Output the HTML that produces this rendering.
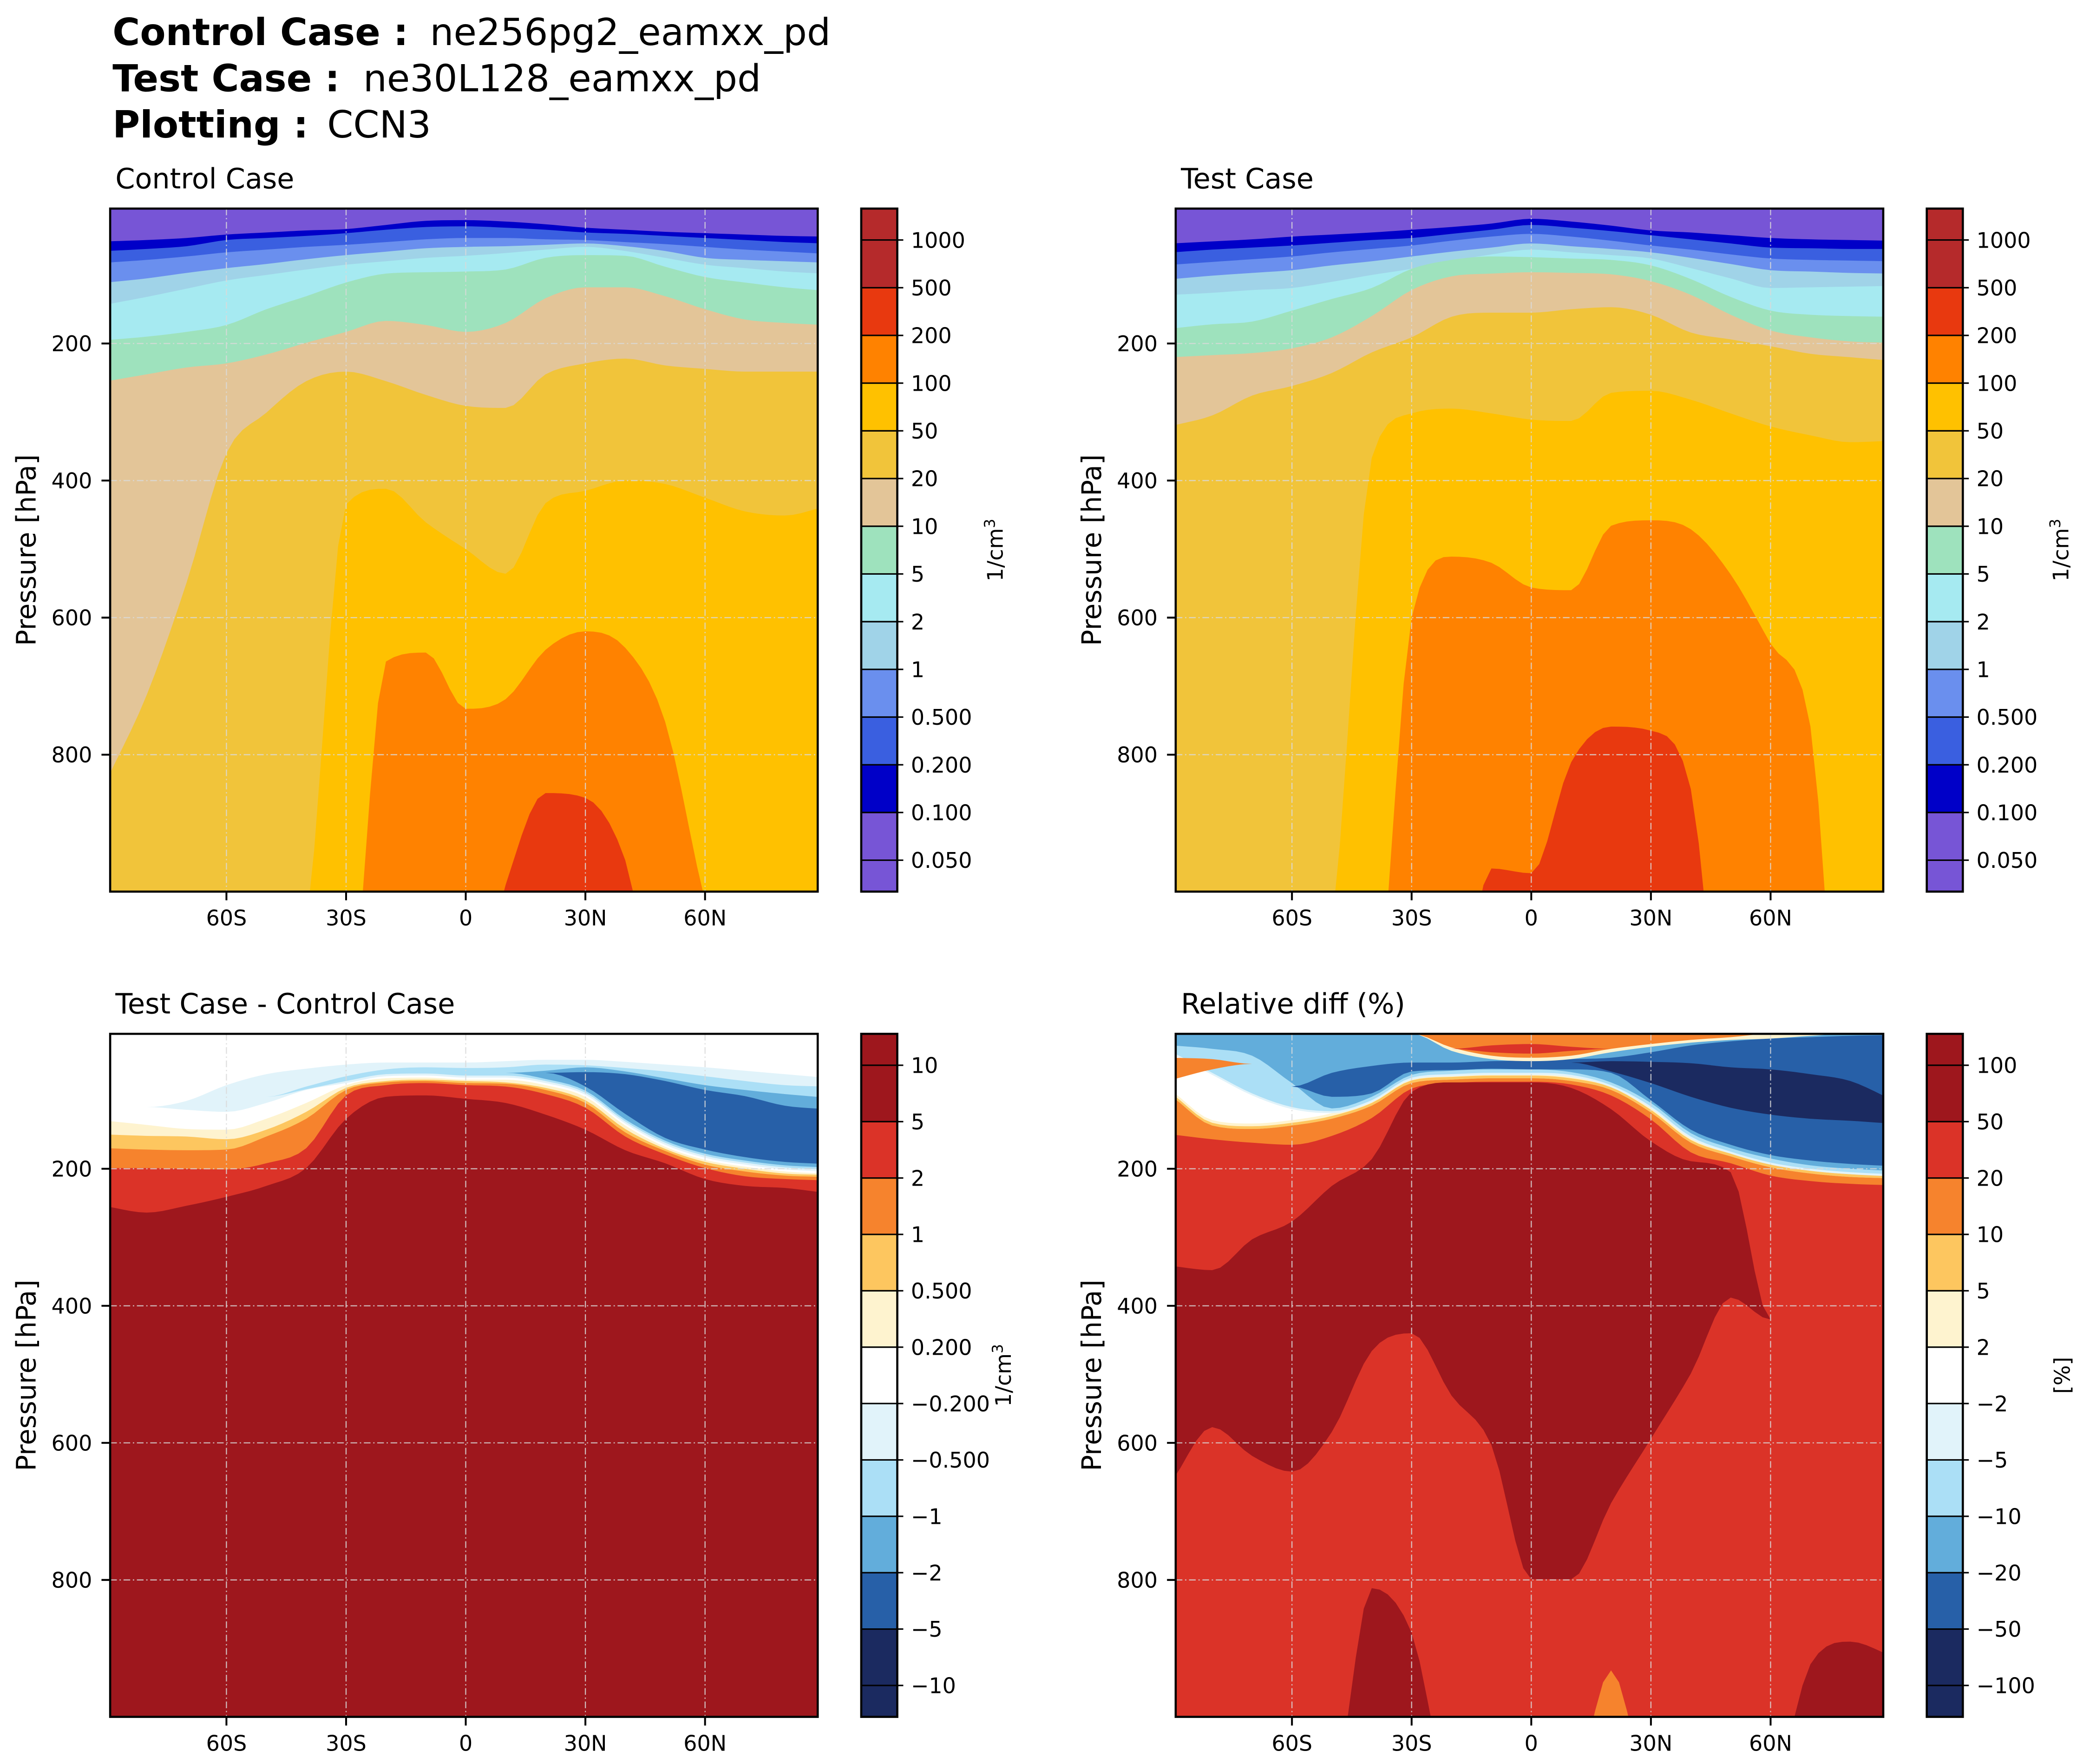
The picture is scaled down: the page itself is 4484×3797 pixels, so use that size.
<!DOCTYPE html>
<html><head><meta charset="utf-8"><title>CCN3 zonal mean</title>
<style>
html,body{margin:0;padding:0;background:#fff;}
svg{display:block;font-family:"DejaVu Sans","Liberation Sans",sans-serif;}
</style></head>
<body>
<svg id="fig" xmlns="http://www.w3.org/2000/svg" width="4484" height="3797" viewBox="0 0 1560 1321" preserveAspectRatio="none">
<rect x="0" y="0" width="1560" height="1321" fill="#ffffff"/>
<g font-size="28" fill="#000">
 <text x="84.3" y="33.7"><tspan font-weight="bold">Control Case :</tspan><tspan x="322">ne256pg2_eamxx_pd</tspan></text>
 <text x="84.3" y="68.3"><tspan font-weight="bold">Test Case :</tspan><tspan x="272">ne30L128_eamxx_pd</tspan></text>
 <text x="84.3" y="103"><tspan font-weight="bold">Plotting :</tspan><tspan x="245">CCN3</tspan></text>
</g>
</svg>
<script>
// ---------- shared grid ----------
const lats = [-90,-80,-70,-60,-50,-40,-30,-20,-10,0,10,20,30,40,50,60,70,80,90];
const xTickVals = [-60,-30,0,30,60];
const xTickLabels = ['60S','30S','0','30N','60N'];
const yTickVals = [200,400,600,800];
const yTickLabels = ['200','400','600','800'];

// ---------- Control case contour boundaries (hPa, region below is >= level) ----------
const c0p1 = [51,49,46,41,38,35,33,27,21,20,22,26,31,34,37,39,41,43,44];
const c0p2 = [65,62,58,49,46,43,39,34,30,29,31,34,38,40,43,46,49,52,54];
const c0p5 = [82,78,73,67,63,59,56,52,48,46,46,48,49,52,55,59,63,66,69];
const c1 = [111,105,97,90,84,77,71,66,61,59,58,56,54,58,65,75,78,80,82];
const c2 = [143,132,120,108,100,92,85,80,75,72,68,63,59,65,75,85,90,95,98];
const c5 = [195,190,183,173,150,131,111,98,96,95,92,75,71,72,88,103,111,118,123];
const c10 = [255,245,235,229,216,199,183,167,173,183,170,134,118,118,131,150,165,170,173];
const c20 = [837,713,549,360,301,255,241,255,275,291,294,245,229,222,232,237,241,241,241];
const c50 = [1200,1200,1200,1200,1200,1050,435,412,461,500,536,433,415,400,405,425,445,451,438];
const c100 = [1200,1200,1200,1200,1200,1200,1200,664,651,733,719,647,620,644,752,1013,1200,1200,1200];
const c200 = [1200,1200,1200,1200,1200,1200,1200,1200,1200,1200,990,856,863,954,1200,1200,1200,1200,1200];

// ---------- Test case contour boundaries ----------
const t0p1 = [54,51,48,44,41,38,34,30,25,18,22,28,35,38,42,46,48,49,50];
const t0p2 = [67,63,60,57,53,49,46,40,34,27,31,36,42,48,54,60,61,62,62];
const t0p5 = [85,81,77,73,67,62,57,50,44,40,44,50,57,63,70,76,78,79,80];
const t1 = [106,101,97,93,86,80,73,66,60,54,58,62,67,75,84,93,95,97,98];
const t2 = [129,126,122,119,110,100,91,80,70,63,67,71,76,90,105,119,118,117,116];
const t5 = [178,172,168,152,135,119,91,78,73,74,76,78,86,106,132,152,158,160,161];
const t10 = [220,217,214,207,191,160,122,102,98,96,97,99,109,129,158,181,191,197,199];
const t20 = [320,305,276,262,243,213,191,161,155,155,150,147,158,184,194,204,215,220,225];
const t50 = [1200,1200,1200,1200,1050,367,302,295,302,311,313,272,269,282,302,321,334,344,342];
const t100 = [1200,1200,1200,1200,1200,1200,600,511,520,556,560,466,458,471,537,638,759,1400,1200];
const t200 = [1200,1200,1200,1200,1200,1200,1200,1200,966,973,811,759,765,850,1300,1200,1200,1200,1200];

// ---------- Difference (test - control) ----------
const d0p2 = [130,136,142,143,127,104,78,68,67,70,70,78,95,137,168,187,197,204,207];
const d0p5 = [150,152,153,157,143,117,82,72,70,72,74,82,100,142,171,190,200,207,209];
const d1 = [170,172,173,172,153,127,85,74,72,75,76,85,104,147,174,194,204,210,212];
const d2 = [199,199,200,201,192,170,93,78,75,78,80,91,111,153,179,199,211,215,217];
const d5 = [255,264,254,241,225,199,127,95,93,98,104,121,143,173,192,215,225,228,235];
const dm0p2Top = [110,110,101,78,62,54,48,45,45,45,43,41,41,44,48,52,57,62,67];
const dm0p2Bot = [110,110,114,117,104,85,75,65,64,67,67,75,92,134,165,184,194,201,204];
const dm0p5Top = [95,95,95,95,95,80,65,55,52,53,52,48,49,53,58,65,72,78,80];
const dm0p5Bot = [95,95,95,95,95,84,72,62,61,64,64,72,89,131,162,181,191,198,201];
const dm1Top = [60,60,60,60,60,60,60,60,60,60,60,57,52,58,68,78,85,91,96];
const dm1Bot = [60,60,60,60,60,60,60,60,60,60,60,69,86,128,159,178,188,195,198];
const dm2Top = [60,60,60,60,60,60,60,60,60,60,60,60,59,62,72,85,94,108,113];
const dm2Bot = [60,60,60,60,60,60,60,60,60,60,60,60,80,120,155,172,183,190,193];

// ---------- Relative difference (%) ----------
const rOrTop = [95,137,142,137,127,108,75,70,68,68,72,85,118,162,182,198,207,212,214];
const rOrBot = [150,157,162,165,152,126,83,75,73,73,77,93,128,176,192,210,218,222,224];
const rLbBot = [30,60,90,110,116,100,67,62,60,60,63,78,109,153,175,191,200,205,208];
const rMbBot = [20,25,35,75,112,95,63,57,55,55,59,74,104,148,170,185,195,200,203];
const rBTop = [80,80,80,80,60,50,45,45,43,42,40,38,30,20,14,10,8,6,5];
const rBBot = [80,80,80,80,95,90,58,56,54,55,55,60,100,143,165,180,188,193,196];
const rCTop = [45,45,45,45,45,45,45,45,45,45,45,43,44,46,52,55,62,72,98];
const rCBot = [45,45,45,45,45,45,45,45,45,45,45,58,75,95,111,121,127,130,134];
const rDPaleBot = [3,3,3,3,3,3,3,28,40,43,40,30,22,16,12,10,6,3,3];
const rDOrBot = [3,3,3,3,3,3,3,23,35,38,35,25,18,12,8,3,3,3,3];
const rDRedTop = [25,25,25,25,25,25,25,25,20,18,22,25,25,25,25,25,25,25,25];
const rDRedBot = [25,25,25,25,25,25,25,25,30,32,28,25,25,25,25,25,25,25,25];
const rETop = [38,40,47,47,47,47,47,47,47,47,47,47,47,47,47,47,47,47,47];
const rEBot = [70,55,47,47,47,47,47,47,47,47,47,47,47,47,47,47,47,47,47];
const rDkTop = [342,348,303,277,225,186,88,74,74,74,82,113,160,189,205,420,420,420,420];
const rDkBot = [655,577,619,642,584,466,440,531,603,799,799,688,594,499,388,420,420,420,420];
const rDk2Top = [1100,1100,1100,1100,1100,812,877,1100,1100,1100,1100,1100,1100,1100,1100,1100,923,890,910];
const rOr2Top = [1100,1100,1100,1100,1100,1100,1100,1100,1100,1100,1100,932,1100,1100,1100,1100,1100,1100,1100];

// ---------- colorbar definitions ----------
const cbAbsLabels = ['1000','500','200','100','50','20','10','5','2','1','0.500','0.200','0.100','0.050'];
const cbDiffLabels = ['10','5','2','1','0.500','0.200','\u22120.200','\u22120.500','\u22121','\u22122','\u22125','\u221210'];
const cbRelLabels = ['100','50','20','10','5','2','\u22122','\u22125','\u221210','\u221220','\u221250','\u2212100'];

const COL = {purple:'#7755d6',dblue:'#0000c8',rblue:'#3a5fe0',cblue:'#6a8fee',lsteel:'#a0d3e8',cyan:'#a6eaf1',mint:'#9ee2bd',tan:'#e3c598',gold:'#f1c43a',amber:'#ffc100',orange:'#ff8200',red:'#e8390f',fire:'#b52a2b'};
const RB = {dkred:'#9e171d',red:'#db3328',orange:'#f6832d',yellow:'#fdc65f',pale:'#fef3cf',white:'#ffffff',lightest:'#e1f3fa',light:'#abdff6',med:'#62addb',blue:'#2760a8',navy:'#1b2a60'};
const cbAbsColors = [COL.fire,COL.fire,COL.red,COL.orange,COL.amber,COL.gold,COL.tan,COL.mint,COL.cyan,COL.lsteel,COL.cblue,COL.rblue,COL.dblue,COL.purple,COL.purple];
const cbRBColors = [RB.dkred,RB.dkred,RB.red,RB.orange,RB.yellow,RB.pale,RB.white,RB.lightest,RB.light,RB.med,RB.blue,RB.navy,RB.navy];

// ---------- geometry ----------
const NS = 'http://www.w3.org/2000/svg';
const svg = document.getElementById('fig');
const AX = {left:82.5,right:612.4,top:156.2,bottom:667.7};
function xS(P,lat){ return P.ox + 348.8 + lat*2.987; }
function yS(P,p){ return P.oy + 154.6 + p*0.5132; }
function el(tag, attrs, parent){
  const e = document.createElementNS(NS, tag);
  for (const k in attrs) e.setAttribute(k, attrs[k]);
  (parent||svg).appendChild(e);
  return e;
}
function arr(v){ return Array.isArray(v) ? v : lats.map(()=>v); }
// monotone cubic (Fritsch-Carlson) dense resampling
const SUB = 5;
function dense(ys){
  const n = ys.length, h = 10, d = [], m = new Array(n);
  for (let i=0;i<n-1;i++) d.push((ys[i+1]-ys[i])/h);
  m[0]=d[0]; m[n-1]=d[n-2];
  for (let i=1;i<n-1;i++){ m[i] = (d[i-1]*d[i]<=0) ? 0 : (d[i-1]+d[i])/2; }
  for (let i=0;i<n-1;i++){
    if (d[i]===0){ m[i]=0; m[i+1]=0; continue; }
    const a=m[i]/d[i], b=m[i+1]/d[i], s=a*a+b*b;
    if (s>9){ const t=3/Math.sqrt(s); m[i]=t*a*d[i]; m[i+1]=t*b*d[i]; }
  }
  const out=[], xs=[];
  for (let i=0;i<n-1;i++){
    for (let k=0;k<SUB;k++){
      const t=k/SUB, t2=t*t, t3=t2*t;
      const v=(2*t3-3*t2+1)*ys[i]+(t3-2*t2+t)*h*m[i]+(-2*t3+3*t2)*ys[i+1]+(t3-t2)*h*m[i+1];
      out.push(v); xs.push(lats[i]+t*h);
    }
  }
  out.push(ys[n-1]); xs.push(lats[n-1]);
  return {xs, ys:out};
}
function band(P, g, top, bot, color, name){
  const T = dense(arr(top)), B = dense(arr(bot));
  const xs = T.xs, N = xs.length;
  const gg = el('g',{},g);
  
  
  let i=0;
  while (i<N){
    while (i<N && B.ys[i]-T.ys[i] <= 0.05) i++;
    if (i>=N) break;
    const s = Math.max(0,i-1);
    while (i<N && B.ys[i]-T.ys[i] > 0.05) i++;
    const e = Math.min(N-1,i);
    const pts=[];
    for (let j=s;j<=e;j++){ const yy=Math.min(T.ys[j],B.ys[j]); pts.push(xS(P,xs[j]).toFixed(2)+','+yS(P,yy).toFixed(2)); }
    for (let j=e;j>=s;j--){ const yy=Math.max(T.ys[j],B.ys[j]); pts.push(xS(P,xs[j]).toFixed(2)+','+yS(P,(B.ys[j]-T.ys[j]<=0.05?T.ys[j]:yy)).toFixed(2)); }
    const pg = el('polygon',{points:pts.join(' '),fill:color},gg);
    
    
  }
  return gg;
}
function addOffset(a, d){ return a.map(v=>v+d); }

function panel(id, P, title, drawFn, cbColors, cbLabels, unit, unitX){
  const g = el('g',{});
  
  
  const L=AX.left+P.ox, R=AX.right+P.ox, Tp=AX.top+P.oy, Bt=AX.bottom+P.oy;
  const cp = el('clipPath',{id:id+'-clip'},g);
  el('rect',{x:L,y:Tp,width:R-L,height:Bt-Tp},cp);
  const plot = el('g',{'clip-path':'url(#'+id+'-clip)'},g);
  
  
  drawFn(P, plot);
  const grid = el('g',{stroke:'#d9d9d9','stroke-opacity':0.85,'stroke-width':0.8,'stroke-dasharray':'5 2 1 2',fill:'none'},g);
  
  
  xTickVals.forEach(v=>{ el('line',{x1:xS(P,v),x2:xS(P,v),y1:Tp,y2:Bt},grid); });
  yTickVals.forEach(v=>{ el('line',{x1:L,x2:R,y1:yS(P,v),y2:yS(P,v)},grid); });
  const fr = el('rect',{x:L,y:Tp,width:R-L,height:Bt-Tp,fill:'none',stroke:'#000','stroke-width':1.6},g);
  
  
  xTickVals.forEach((v,i)=>{
    el('line',{x1:xS(P,v),x2:xS(P,v),y1:Bt,y2:Bt+6.5,stroke:'#000','stroke-width':1.4},g);
    const t = el('text',{x:xS(P,v),y:Bt+25.3,'font-size':16,'text-anchor':'middle',fill:'#000'},g);
    t.textContent = xTickLabels[i];
    
    
  });
  yTickVals.forEach((v,i)=>{
    el('line',{x1:L-6.5,x2:L,y1:yS(P,v),y2:yS(P,v),stroke:'#000','stroke-width':1.4},g);
    const t = el('text',{x:L-13.5,y:yS(P,v)+5.8,'font-size':16,'text-anchor':'end',fill:'#000'},g);
    t.textContent = yTickLabels[i];
    
    
  });
  const yl = el('text',{x:0,y:0,'font-size':20,'text-anchor':'middle',fill:'#000',transform:'translate('+(P.ox+26.6)+','+((Tp+Bt)/2)+') rotate(-90)'},g);
  yl.textContent = 'Pressure [hPa]';
  
  
  const tt = el('text',{x:L+3.9,y:Tp-15.2,'font-size':21,fill:'#000'},g);
  tt.textContent = title;
  
  
  const cb = el('g',{},g);
  
  
  const cL=645+P.ox, cR=672+P.ox, H=Bt-Tp, ext=0.046*H, n=cbLabels.length-1, bh=(H-2*ext)/n;
  const edges=[Tp]; for(let i=0;i<=n;i++) edges.push(Tp+ext+i*bh); edges.push(Bt);
  for (let i=0;i<cbColors.length;i++){
    const r = el('rect',{x:cL,y:edges[i],width:cR-cL,height:edges[i+1]-edges[i],fill:cbColors[i]},cb);
    
    
  }
  cbLabels.forEach((lab,i)=>{
    const y = Tp+ext+i*bh;
    el('line',{x1:cL,x2:cR,y1:y,y2:y,stroke:'#000','stroke-width':1.1},cb);
    el('line',{x1:cR,x2:cR+4.5,y1:y,y2:y,stroke:'#000','stroke-width':1.1},cb);
    const t = el('text',{x:682.2+P.ox,y:y+5.8,'font-size':16,fill:'#000'},cb);
    t.textContent = lab;
    
    
  });
  el('rect',{x:cL,y:Tp,width:cR-cL,height:H,fill:'none',stroke:'#000','stroke-width':1.6},cb);
  const ul = el('text',{x:0,y:0,'font-size':16,'text-anchor':'middle',fill:'#000',transform:'translate('+(unitX+P.ox)+','+((Tp+Bt)/2)+') rotate(-90)'},cb);
  if (unit==='cm'){ ul.textContent='1/cm'; const s=el('tspan',{'font-size':11,dy:-6},ul); s.textContent='3'; }
  else ul.textContent = unit;
  
  
}

function drawAbs(sets){
  return function(P,g){
    band(P,g,0,1100,COL.purple,'band-below-0.1');
    const cols=[COL.dblue,COL.rblue,COL.cblue,COL.lsteel,COL.cyan,COL.mint,COL.tan,COL.gold,COL.amber,COL.orange,COL.red];
    const names=['0.1','0.2','0.5','1','2','5','10','20','50','100','200'];
    sets.forEach((s,i)=>band(P,g,s,1100,cols[i],'level-'+names[i]+'-region'));
  };
}
function drawDiff(P,g){
  band(P,g,0,1100,RB.white,'near-zero-region');
  band(P,g,d0p2,1100,RB.pale,'level-0.2-region');
  band(P,g,d0p5,1100,RB.yellow,'level-0.5-region');
  band(P,g,d1,1100,RB.orange,'level-1-region');
  band(P,g,d2,1100,RB.red,'level-2-region');
  band(P,g,d5,1100,RB.dkred,'level-5-region');
  band(P,g,dm0p2Top,dm0p2Bot,RB.lightest,'level-neg0.2-region');
  band(P,g,dm0p5Top,dm0p5Bot,RB.light,'level-neg0.5-region');
  band(P,g,dm1Top,dm1Bot,RB.med,'level-neg1-region');
  band(P,g,dm2Top,dm2Bot,RB.blue,'level-neg2-region');
}
function drawRel(P,g){
  band(P,g,0,1100,RB.red,'level-20-region');
  band(P,g,0,rOrTop,RB.white,'near-zero-region');
  band(P,g,addOffset(rOrTop,-8),rOrTop,RB.pale,'level-2-band');
  band(P,g,addOffset(rOrTop,-4),rOrTop,RB.yellow,'level-5-band');
  band(P,g,rOrTop,rOrBot,RB.orange,'level-10-band');
  band(P,g,0,addOffset(rLbBot,3),RB.lightest,'level-neg2-region');
  band(P,g,0,rLbBot,RB.light,'level-neg5-region');
  band(P,g,0,rMbBot,RB.med,'level-neg10-region');
  band(P,g,rBTop,rBBot,RB.blue,'level-neg20-region');
  band(P,g,rCTop,rCBot,RB.navy,'level-neg50-region');
  band(P,g,3,rDPaleBot,RB.pale,'upper-positive-pale');
  band(P,g,3,rDOrBot,RB.orange,'upper-positive-orange');
  band(P,g,rDRedTop,rDRedBot,RB.red,'upper-positive-red');
  band(P,g,rETop,rEBot,RB.orange,'polar-positive-orange');
  band(P,g,rDkTop,rDkBot,RB.dkred,'level-50-main-region');
  band(P,g,rDk2Top,1100,RB.dkred,'level-50-surface-regions');
  band(P,g,rOr2Top,1100,RB.orange,'level-10-surface-region');
}

panel('control',{ox:0,oy:0},'Control Case',drawAbs([c0p1,c0p2,c0p5,c1,c2,c5,c10,c20,c50,c100,c200]),cbAbsColors,cbAbsLabels,'cm',751);
panel('test',{ox:798,oy:0},'Test Case',drawAbs([t0p1,t0p2,t0p5,t1,t2,t5,t10,t20,t50,t100,t200]),cbAbsColors,cbAbsLabels,'cm',751);
panel('diff',{ox:0,oy:618},'Test Case - Control Case',drawDiff,cbRBColors,cbDiffLabels,'cm',757);
panel('reldiff',{ox:798,oy:618},'Relative diff (%)',drawRel,cbRBColors,cbRelLabels,'[%]',752);
</script>
</body></html>
